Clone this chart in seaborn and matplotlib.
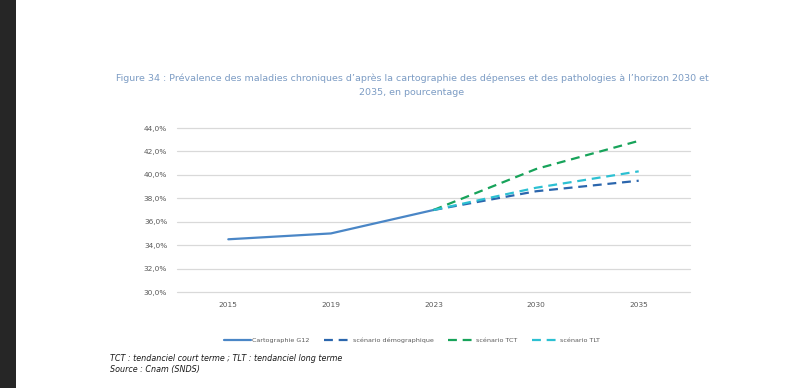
import matplotlib
matplotlib.use("Agg")
import matplotlib.pyplot as plt
import matplotlib.patches as mpatches
import seaborn as sns
import pandas as pd

sns.set_style("white")
plt.rcParams["font.family"] = ["DejaVu Sans"]

# ---------------------------------------------------
# Data
# ---------------------------------------------------

years = ["2015", "2019", "2023", "2030", "2035"]

carto_years = ["2015", "2019", "2023"]
carto_values = [34.5, 35.0, 37.0]

scen_years = ["2023", "2030", "2035"]
demo_values = [37.0, 38.6, 39.5]
tct_values = [37.0, 40.5, 42.9]
tlt_values = [37.0, 38.9, 40.3]

yticks = [30, 32, 34, 36, 38, 40, 42, 44]

series = [
    ("Cartographie G12", carto_years, carto_values, "#4a86c6", None),
    ("scénario démographique", scen_years, demo_values, "#2b66ad", (4, 2.6)),
    ("scénario TCT", scen_years, tct_values, "#17a35a", (4, 2.6)),
    ("scénario TLT", scen_years, tlt_values, "#2cc0d2", (4, 2.6)),
]

# ---------------------------------------------------
# Figure
# ---------------------------------------------------

fig = plt.figure(figsize=(8.04, 3.88), dpi=100)
fig.patch.set_facecolor("white")
fig.patches.append(mpatches.Rectangle((0, 0), 16 / 804, 1, transform=fig.transFigure,
                                      facecolor="#262626", edgecolor="none", zorder=-1))

ax = fig.add_axes([177 / 804, 1 - 292 / 388, 513 / 804, 164 / 388])

# fix category order on the axis
ax.plot(years, [None] * len(years), alpha=0)

for label, xs, vals, color, dash in series:
    df = pd.DataFrame({"year": xs, "value": vals})
    sns.lineplot(data=df, x="year", y="value", ax=ax, color=color,
                 linewidth=1.6, label=label, sort=False)
    if dash is not None:
        ax.lines[-1].set_dashes(dash)

ax.set_xlim(-0.5, len(years) - 0.5)
ax.set_ylim(30, 44)
ax.set_yticks(yticks)
ax.set_yticklabels([f"{v:.1f}%".replace(".", ",") for v in yticks])
ax.set_xlabel("")
ax.set_ylabel("")
ax.grid(axis="y", color="#d9d9d9", linewidth=0.9)
for gl in ax.get_ygridlines():
    gl.set_clip_on(False)
ax.set_axisbelow(True)
for s in ax.spines.values():
    s.set_visible(False)
ax.tick_params(axis="both", length=0, labelsize=5.3, labelcolor="#595959")
ax.tick_params(axis="y", pad=7)
ax.tick_params(axis="x", pad=7)

ax.legend(loc="center", bbox_to_anchor=(412 / 804, 1 - 340 / 388),
          bbox_transform=fig.transFigure, ncol=4, frameon=False,
          fontsize=4.6, labelcolor="#595959", handlelength=4.2,
          handletextpad=0.3, columnspacing=2.2)

fig.text(412 / 804, 1 - 85 / 388,
         "Figure 34 : Prévalence des maladies chroniques d\u2019après la cartographie des dépenses et des pathologies à l\u2019horizon 2030 et\n2035, en pourcentage",
         ha="center", va="center", fontsize=6.8, color="#7c9cc4", linespacing=1.75)

fig.text(110 / 804, 1 - 364 / 388,
         "TCT : tendanciel court terme ; TLT : tendanciel long terme\nSource : Cnam (SNDS)",
         ha="left", va="center", fontsize=5.8, style="italic", color="#1a1a1a",
         linespacing=1.25)

plt.savefig("out.png", dpi=100)
plt.close()
